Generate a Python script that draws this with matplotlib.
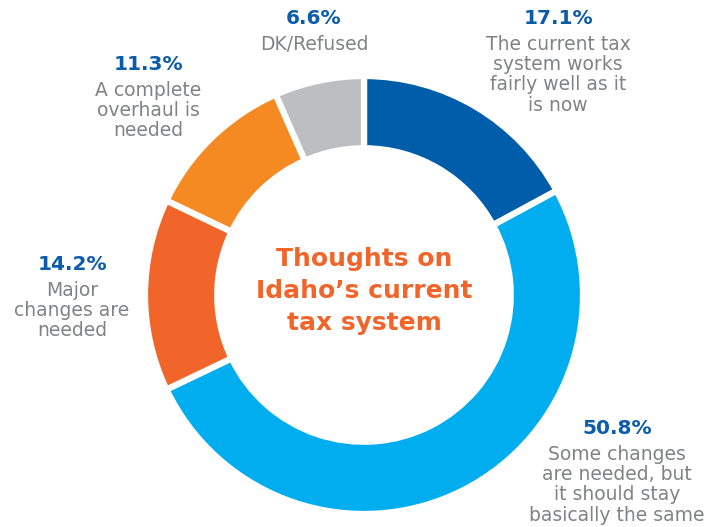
import matplotlib
matplotlib.use("Agg")
import matplotlib.pyplot as plt

categories = ["The current tax\nsystem works\nfairly well as it\nis now",
              "Some changes\nare needed, but\nit should stay\nbasically the same",
              "Major\nchanges are\nneeded",
              "A complete\noverhaul is\nneeded",
              "DK/Refused"]
values = [17.1, 50.8, 14.2, 11.3, 6.6]
pct_labels = ["17.1%", "50.8%", "14.2%", "11.3%", "6.6%"]
colors = ["#005DAA", "#00AEEF", "#F1652A", "#F58A23", "#BCBEC0"]

W, H = 722, 527
fig = plt.figure(figsize=(W / 100, H / 100), dpi=100)
cx, cy, R = 364, 295, 219
ax = fig.add_axes([(cx - R) / W, (H - cy - R) / H, 2 * R / W, 2 * R / H])
ax.pie(values, colors=colors, startangle=90, counterclock=False, radius=1,
       wedgeprops=dict(width=0.33, edgecolor="white", linewidth=4.5))
ax.set_xlim(-1, 1)
ax.set_ylim(-1, 1)
ax.set_aspect("equal")
ax.axis("off")

ax.text(0, 0.02, "Thoughts on\nIdaho’s current\ntax system", ha="center", va="center",
        color="#F1652A", fontsize=18, fontweight="bold", linespacing=1.42)

# label anchor positions (pixel, top of percentage)
pos = [(558, 9), (617, 419), (72, 255), (148, 55), (314, 9)]
for (px, py), pl, cat in zip(pos, pct_labels, categories):
    fig.text(px / W, 1 - py / H, pl, ha="center", va="top", color="#0B5CAB",
             fontsize=14.5, fontweight="bold")
    fig.text(px / W, 1 - (py + 26) / H, cat, ha="center", va="top", color="#808285",
             fontsize=13.5, linespacing=1.08)

fig.savefig("out.png", dpi=100)
